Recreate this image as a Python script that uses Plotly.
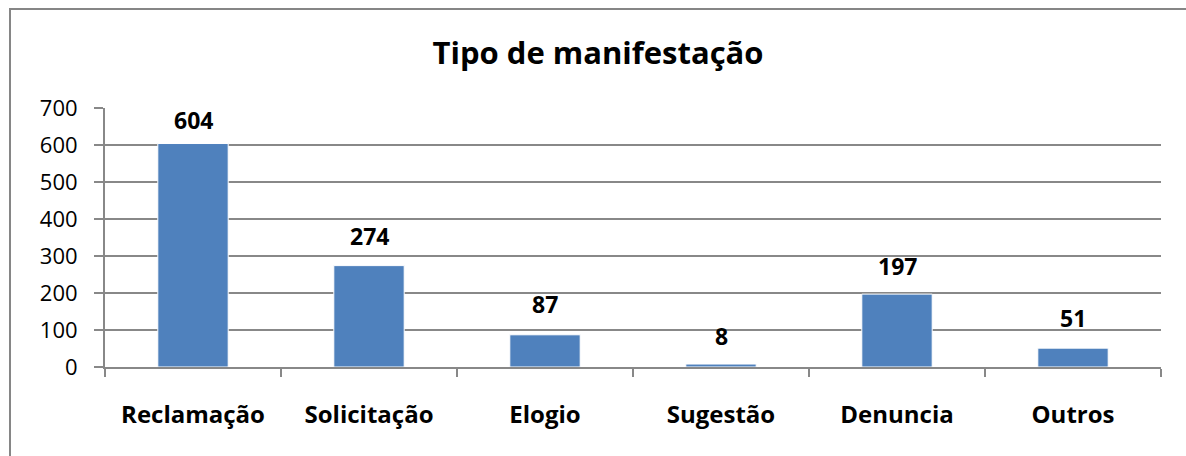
import plotly.graph_objects as go

categories = ["Reclamação", "Solicitação", "Elogio", "Sugestão", "Denuncia", "Outros"]
values = [604, 274, 87, 8, 197, 51]
title_text = "Tipo de manifestação"
y_ticks = [0, 100, 200, 300, 400, 500, 600, 700]

FONT = "Open Sans"
W, H = 1186, 456
L, R, T, B = 105, 25, 108, 89
# extra pixel lift of each data label (labels were placed by hand in the original)
label_lift = [6, 12, 13, 10, 10, 12]

fig = go.Figure()
fig.add_trace(go.Bar(
    x=categories, y=values,
    marker=dict(color="#4F81BD", line=dict(color="#FFFFFF", width=1)),
    width=0.4,
    hoverinfo="x+y",
))

for c, v, s in zip(categories, values, label_lift):
    fig.add_annotation(x=c, y=v, text="<b>%d</b>" % v, showarrow=False,
                       yanchor="bottom", yshift=s,
                       font=dict(family=FONT, size=23, color="#000000"))

fig.update_layout(
    width=W, height=H,
    margin=dict(l=L, r=R, t=T, b=B),
    paper_bgcolor="white", plot_bgcolor="white",
    showlegend=False,
    title=dict(text="<b>" + title_text + "</b>", x=598 / W,
               xanchor="center", y=1 - 53 / H, yanchor="middle",
               font=dict(family=FONT, size=31, color="#000000")),
    font=dict(family=FONT, color="#000000"),
    bargap=0.6,
)

fig.update_yaxes(
    range=[0, 700], tickvals=y_ticks,
    showgrid=True, gridcolor="#888888", gridwidth=2,
    showline=True, linecolor="#888888", linewidth=2,
    ticks="outside", ticklen=9, tickcolor="#888888", tickwidth=2,
    tickfont=dict(family=FONT, size=22, color="#000000"),
    ticklabelstandoff=12,
    zeroline=False,
)
fig.update_xaxes(
    showline=True, linecolor="#888888", linewidth=2,
    ticks="outside", ticklen=8, tickcolor="#888888", tickwidth=2,
    tickson="boundaries",
    tickfont=dict(family=FONT, size=24, color="#000000"),
    tickprefix="<b>", ticksuffix="</b>",
    ticklabelstandoff=25,
)

fig.add_shape(type="rect", xref="paper", yref="paper",
              x0=(10 - L) / (W - L - R), x1=(1220 - L) / (W - L - R),
              y0=-(480 - (H - B)) / (H - T - B), y1=((H - B) - 9) / (H - T - B),
              line=dict(color="#868686", width=2), fillcolor="rgba(0,0,0,0)", layer="below")

fig.write_html("out.html", post_script="document.body.style.margin='0px';",
               config={"displayModeBar": False})
